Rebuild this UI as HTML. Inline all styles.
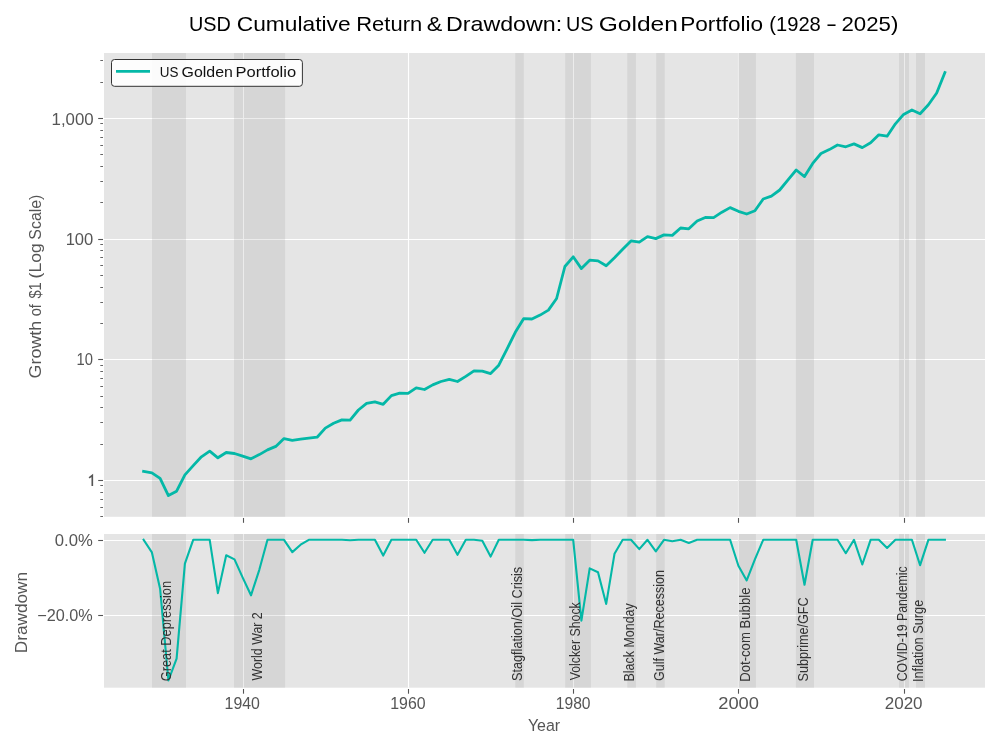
<!DOCTYPE html>
<html><head><meta charset="utf-8"><title>USD Cumulative Return &amp; Drawdown</title>
<style>html,body{margin:0;padding:0;background:#fff;}body{width:1000px;height:750px;overflow:hidden;font-family:"Liberation Sans",sans-serif;}</style></head>
<body>
<svg width="1000" height="750" viewBox="0 0 1000 750" style="display:block;will-change:transform;font-family:'Liberation Sans',sans-serif">
<rect width="1000" height="750" fill="#ffffff"/>
<rect x="104.0" y="53.0" width="881.0" height="463.8" fill="#e5e5e5"/>
<line x1="243.5" x2="243.5" y1="53.0" y2="516.8" stroke="#fff" stroke-width="1.1"/>
<line x1="408.5" x2="408.5" y1="53.0" y2="516.8" stroke="#fff" stroke-width="1.1"/>
<line x1="573.5" x2="573.5" y1="53.0" y2="516.8" stroke="#fff" stroke-width="1.1"/>
<line x1="738.5" x2="738.5" y1="53.0" y2="516.8" stroke="#fff" stroke-width="1.1"/>
<line x1="904.5" x2="904.5" y1="53.0" y2="516.8" stroke="#fff" stroke-width="1.1"/>
<line x1="104.0" x2="985.0" y1="118.5" y2="118.5" stroke="#fff" stroke-width="1.1"/>
<line x1="104.0" x2="985.0" y1="239.5" y2="239.5" stroke="#fff" stroke-width="1.1"/>
<line x1="104.0" x2="985.0" y1="359.5" y2="359.5" stroke="#fff" stroke-width="1.1"/>
<line x1="104.0" x2="985.0" y1="480.5" y2="480.5" stroke="#fff" stroke-width="1.1"/>
<rect x="152.0" y="53.0" width="34.0" height="463.8" fill="#808080" fill-opacity="0.15"/>
<rect x="234.0" y="53.0" width="51.1" height="463.8" fill="#808080" fill-opacity="0.15"/>
<rect x="515.3" y="53.0" width="8.5" height="463.8" fill="#808080" fill-opacity="0.15"/>
<rect x="565.2" y="53.0" width="25.7" height="463.8" fill="#808080" fill-opacity="0.15"/>
<rect x="627.3" y="53.0" width="8.6" height="463.8" fill="#808080" fill-opacity="0.15"/>
<rect x="656.2" y="53.0" width="8.5" height="463.8" fill="#808080" fill-opacity="0.15"/>
<rect x="738.0" y="53.0" width="17.9" height="463.8" fill="#808080" fill-opacity="0.15"/>
<rect x="795.9" y="53.0" width="18.1" height="463.8" fill="#808080" fill-opacity="0.15"/>
<rect x="899.0" y="53.0" width="10.0" height="463.8" fill="#808080" fill-opacity="0.15"/>
<rect x="916.0" y="53.0" width="9.0" height="463.8" fill="#808080" fill-opacity="0.15"/>
<rect x="104.0" y="534.0" width="881.0" height="153.7" fill="#e5e5e5"/>
<line x1="243.5" x2="243.5" y1="534.0" y2="687.7" stroke="#fff" stroke-width="1.1"/>
<line x1="408.5" x2="408.5" y1="534.0" y2="687.7" stroke="#fff" stroke-width="1.1"/>
<line x1="573.5" x2="573.5" y1="534.0" y2="687.7" stroke="#fff" stroke-width="1.1"/>
<line x1="738.5" x2="738.5" y1="534.0" y2="687.7" stroke="#fff" stroke-width="1.1"/>
<line x1="904.5" x2="904.5" y1="534.0" y2="687.7" stroke="#fff" stroke-width="1.1"/>
<line x1="104.0" x2="985.0" y1="540.5" y2="540.5" stroke="#fff" stroke-width="1.1"/>
<line x1="104.0" x2="985.0" y1="615.5" y2="615.5" stroke="#fff" stroke-width="1.1"/>
<rect x="152.0" y="534.0" width="34.0" height="153.7" fill="#808080" fill-opacity="0.15"/>
<rect x="234.0" y="534.0" width="51.1" height="153.7" fill="#808080" fill-opacity="0.15"/>
<rect x="515.3" y="534.0" width="8.5" height="153.7" fill="#808080" fill-opacity="0.15"/>
<rect x="565.2" y="534.0" width="25.7" height="153.7" fill="#808080" fill-opacity="0.15"/>
<rect x="627.3" y="534.0" width="8.6" height="153.7" fill="#808080" fill-opacity="0.15"/>
<rect x="656.2" y="534.0" width="8.5" height="153.7" fill="#808080" fill-opacity="0.15"/>
<rect x="738.0" y="534.0" width="17.9" height="153.7" fill="#808080" fill-opacity="0.15"/>
<rect x="795.9" y="534.0" width="18.1" height="153.7" fill="#808080" fill-opacity="0.15"/>
<rect x="899.0" y="534.0" width="10.0" height="153.7" fill="#808080" fill-opacity="0.15"/>
<rect x="916.0" y="534.0" width="9.0" height="153.7" fill="#808080" fill-opacity="0.15"/>
<polyline points="143.6,471.4 151.9,472.8 160.1,478.4 168.4,495.6 176.6,491.2 184.9,474.9 193.2,465.6 201.4,456.8 209.7,451.1 217.9,457.8 226.2,452.5 234.5,453.5 242.7,456.2 251.0,458.8 259.3,454.6 267.5,449.9 275.8,446.4 284.0,438.6 292.3,440.3 300.6,439.2 308.8,438.1 317.1,437.2 325.3,428.1 333.6,423.3 341.9,419.9 350.1,420.1 358.4,410.0 366.6,403.3 374.9,401.8 383.2,404.3 391.4,395.6 399.7,393.2 408.0,393.4 416.2,387.8 424.5,389.5 432.7,384.9 441.0,381.5 449.3,379.3 457.5,381.5 465.8,376.4 474.0,370.8 482.3,371.1 490.6,373.6 498.8,365.2 507.1,348.8 515.3,332.3 523.6,318.7 531.9,319.0 540.1,315.1 548.4,310.1 556.6,298.5 564.9,266.5 573.2,256.8 581.4,268.6 589.7,260.2 598.0,260.9 606.2,265.8 614.5,257.7 622.7,249.2 631.0,240.9 639.3,242.2 647.5,236.7 655.8,238.6 664.0,234.9 672.3,235.4 680.6,228.0 688.8,228.8 697.1,221.0 705.3,217.5 713.6,217.6 721.9,212.2 730.1,207.6 738.4,211.3 746.7,214.0 754.9,210.8 763.2,199.0 771.4,196.1 779.7,190.0 788.0,179.9 796.2,170.0 804.5,176.6 812.7,163.4 821.0,153.5 829.3,149.6 837.5,145.0 845.8,146.8 854.0,143.9 862.3,147.6 870.6,142.8 878.8,134.8 887.1,136.2 895.4,123.8 903.6,114.4 911.9,109.9 920.1,113.8 928.4,104.8 936.7,93.0 944.9,72.6" fill="none" stroke="#04b8a7" stroke-width="2.8" stroke-linejoin="round" stroke-linecap="square"/>
<polyline points="143.6,539.8 151.9,552.4 160.1,588.7 168.4,680.5 176.6,658.6 184.9,563.7 193.2,539.8 201.4,539.8 209.7,539.8 217.9,593.1 226.2,555.2 234.5,559.4 242.7,577.6 251.0,595.3 259.3,569.8 267.5,539.8 275.8,539.8 284.0,539.8 292.3,552.1 300.6,544.7 308.8,539.8 317.1,539.8 325.3,539.8 333.6,539.8 341.9,539.8 350.1,540.2 358.4,539.8 366.6,539.8 374.9,539.8 383.2,555.6 391.4,539.8 399.7,539.8 408.0,539.8 416.2,539.8 424.5,552.8 432.7,539.8 441.0,539.8 449.3,539.8 457.5,554.8 465.8,539.8 474.0,539.8 482.3,540.8 490.6,556.6 498.8,539.8 507.1,539.8 515.3,539.8 523.6,539.8 531.9,540.1 540.1,539.8 548.4,539.8 556.6,539.8 564.9,539.8 573.2,539.8 581.4,620.7 589.7,568.4 598.0,572.3 606.2,603.9 614.5,553.8 622.7,539.8 631.0,539.8 639.3,549.1 647.5,539.8 655.8,551.3 664.0,539.8 672.3,541.3 680.6,539.8 688.8,542.9 697.1,539.8 705.3,539.8 713.6,539.8 721.9,539.8 730.1,539.8 738.4,565.7 746.7,580.4 754.9,559.4 763.2,539.8 771.4,539.8 779.7,539.8 788.0,539.8 796.2,539.8 804.5,584.7 812.7,539.8 821.0,539.8 829.3,539.8 837.5,539.8 845.8,553.2 854.0,539.8 862.3,564.5 870.6,539.8 878.8,539.8 887.1,548.0 895.4,539.8 903.6,539.8 911.9,539.8 920.1,565.2 928.4,539.8 936.7,539.8 944.9,539.8" fill="none" stroke="#04b8a7" stroke-width="2.1" stroke-linejoin="round" stroke-linecap="square"/>
<line x1="243.5" x2="243.5" y1="518" y2="522.8" stroke="#555555" stroke-width="1.1"/>
<line x1="243.5" x2="243.5" y1="689" y2="693.7" stroke="#555555" stroke-width="1.1"/>
<line x1="408.5" x2="408.5" y1="518" y2="522.8" stroke="#555555" stroke-width="1.1"/>
<line x1="408.5" x2="408.5" y1="689" y2="693.7" stroke="#555555" stroke-width="1.1"/>
<line x1="573.5" x2="573.5" y1="518" y2="522.8" stroke="#555555" stroke-width="1.1"/>
<line x1="573.5" x2="573.5" y1="689" y2="693.7" stroke="#555555" stroke-width="1.1"/>
<line x1="738.5" x2="738.5" y1="518" y2="522.8" stroke="#555555" stroke-width="1.1"/>
<line x1="738.5" x2="738.5" y1="689" y2="693.7" stroke="#555555" stroke-width="1.1"/>
<line x1="904.5" x2="904.5" y1="518" y2="522.8" stroke="#555555" stroke-width="1.1"/>
<line x1="904.5" x2="904.5" y1="689" y2="693.7" stroke="#555555" stroke-width="1.1"/>
<line x1="98.2" x2="103" y1="118.5" y2="118.5" stroke="#555555" stroke-width="1.1"/>
<line x1="98.2" x2="103" y1="239.5" y2="239.5" stroke="#555555" stroke-width="1.1"/>
<line x1="98.2" x2="103" y1="359.5" y2="359.5" stroke="#555555" stroke-width="1.1"/>
<line x1="98.2" x2="103" y1="480.5" y2="480.5" stroke="#555555" stroke-width="1.1"/>
<line x1="98.2" x2="103" y1="540.5" y2="540.5" stroke="#555555" stroke-width="1.1"/>
<line x1="98.2" x2="103" y1="615.5" y2="615.5" stroke="#555555" stroke-width="1.1"/>
<line x1="100.3" x2="103" y1="516.5" y2="516.5" stroke="#555555" stroke-width="0.9"/>
<line x1="100.3" x2="103" y1="507.5" y2="507.5" stroke="#555555" stroke-width="0.9"/>
<line x1="100.3" x2="103" y1="499.5" y2="499.5" stroke="#555555" stroke-width="0.9"/>
<line x1="100.3" x2="103" y1="492.5" y2="492.5" stroke="#555555" stroke-width="0.9"/>
<line x1="100.3" x2="103" y1="485.5" y2="485.5" stroke="#555555" stroke-width="0.9"/>
<line x1="100.3" x2="103" y1="444.5" y2="444.5" stroke="#555555" stroke-width="0.9"/>
<line x1="100.3" x2="103" y1="422.5" y2="422.5" stroke="#555555" stroke-width="0.9"/>
<line x1="100.3" x2="103" y1="407.5" y2="407.5" stroke="#555555" stroke-width="0.9"/>
<line x1="100.3" x2="103" y1="396.5" y2="396.5" stroke="#555555" stroke-width="0.9"/>
<line x1="100.3" x2="103" y1="386.5" y2="386.5" stroke="#555555" stroke-width="0.9"/>
<line x1="100.3" x2="103" y1="378.5" y2="378.5" stroke="#555555" stroke-width="0.9"/>
<line x1="100.3" x2="103" y1="371.5" y2="371.5" stroke="#555555" stroke-width="0.9"/>
<line x1="100.3" x2="103" y1="365.5" y2="365.5" stroke="#555555" stroke-width="0.9"/>
<line x1="100.3" x2="103" y1="323.5" y2="323.5" stroke="#555555" stroke-width="0.9"/>
<line x1="100.3" x2="103" y1="302.5" y2="302.5" stroke="#555555" stroke-width="0.9"/>
<line x1="100.3" x2="103" y1="287.5" y2="287.5" stroke="#555555" stroke-width="0.9"/>
<line x1="100.3" x2="103" y1="275.5" y2="275.5" stroke="#555555" stroke-width="0.9"/>
<line x1="100.3" x2="103" y1="265.5" y2="265.5" stroke="#555555" stroke-width="0.9"/>
<line x1="100.3" x2="103" y1="257.5" y2="257.5" stroke="#555555" stroke-width="0.9"/>
<line x1="100.3" x2="103" y1="250.5" y2="250.5" stroke="#555555" stroke-width="0.9"/>
<line x1="100.3" x2="103" y1="244.5" y2="244.5" stroke="#555555" stroke-width="0.9"/>
<line x1="100.3" x2="103" y1="202.5" y2="202.5" stroke="#555555" stroke-width="0.9"/>
<line x1="100.3" x2="103" y1="181.5" y2="181.5" stroke="#555555" stroke-width="0.9"/>
<line x1="100.3" x2="103" y1="166.5" y2="166.5" stroke="#555555" stroke-width="0.9"/>
<line x1="100.3" x2="103" y1="154.5" y2="154.5" stroke="#555555" stroke-width="0.9"/>
<line x1="100.3" x2="103" y1="145.5" y2="145.5" stroke="#555555" stroke-width="0.9"/>
<line x1="100.3" x2="103" y1="137.5" y2="137.5" stroke="#555555" stroke-width="0.9"/>
<line x1="100.3" x2="103" y1="130.5" y2="130.5" stroke="#555555" stroke-width="0.9"/>
<line x1="100.3" x2="103" y1="123.5" y2="123.5" stroke="#555555" stroke-width="0.9"/>
<line x1="100.3" x2="103" y1="82.5" y2="82.5" stroke="#555555" stroke-width="0.9"/>
<line x1="100.3" x2="103" y1="60.5" y2="60.5" stroke="#555555" stroke-width="0.9"/>
<rect x="111.5" y="59.5" width="190.9" height="26.8" rx="3" ry="3" fill="#ffffff" fill-opacity="0.9" stroke="#333" stroke-width="1"/>
<line x1="116" x2="150" y1="71.4" y2="71.4" stroke="#04b8a7" stroke-width="2.8"/>
<text x="189.00" y="30.6" font-size="20.4" fill="#000000" textLength="41.90" lengthAdjust="spacingAndGlyphs">USD</text>
<text x="236.75" y="30.6" font-size="20.4" fill="#000000" textLength="113.80" lengthAdjust="spacingAndGlyphs">Cumulative</text>
<text x="356.25" y="30.6" font-size="20.4" fill="#000000" textLength="65.90" lengthAdjust="spacingAndGlyphs">Return</text>
<text x="426.75" y="30.6" font-size="20.4" fill="#000000" textLength="15.57" lengthAdjust="spacingAndGlyphs">&amp;</text>
<text x="446.00" y="30.6" font-size="20.4" fill="#000000" textLength="116.14" lengthAdjust="spacingAndGlyphs">Drawdown:</text>
<text x="566.00" y="30.6" font-size="20.4" fill="#000000" textLength="27.47" lengthAdjust="spacingAndGlyphs">US</text>
<text x="598.75" y="30.6" font-size="20.4" fill="#000000" textLength="79.10" lengthAdjust="spacingAndGlyphs">Golden</text>
<text x="680.25" y="30.6" font-size="20.4" fill="#000000" textLength="82.85" lengthAdjust="spacingAndGlyphs">Portfolio</text>
<text x="769.25" y="30.6" font-size="20.4" fill="#000000" textLength="51.58" lengthAdjust="spacingAndGlyphs">(1928</text>
<text x="826.00" y="30.6" font-size="20.4" fill="#000000" textLength="11.01" lengthAdjust="spacingAndGlyphs">-</text>
<text x="841.50" y="30.6" font-size="20.4" fill="#000000" textLength="56.85" lengthAdjust="spacingAndGlyphs">2025)</text>
<text x="51.55" y="124.5" font-size="16.3" fill="#555555" textLength="42.09" lengthAdjust="spacingAndGlyphs">1,000</text>
<text x="65.65" y="245.2" font-size="16.3" fill="#555555" textLength="27.65" lengthAdjust="spacingAndGlyphs">100</text>
<text x="76.60" y="365.3" font-size="16.3" fill="#555555" textLength="16.42" lengthAdjust="spacingAndGlyphs">10</text>
<polyline points="89.1,477.9 92.3,475.4 92.3,486.1" fill="none" stroke="#555555" stroke-width="1.65" stroke-linejoin="miter"/>
<text x="54.85" y="546.0" font-size="16.3" fill="#555555" textLength="38.04" lengthAdjust="spacingAndGlyphs">0.0%</text>
<text x="37.25" y="620.9" font-size="16.3" fill="#555555" textLength="55.53" lengthAdjust="spacingAndGlyphs">−20.0%</text>
<text x="224.55" y="708.7" font-size="16.3" fill="#555555" textLength="35.35" lengthAdjust="spacingAndGlyphs">1940</text>
<text x="390.25" y="708.7" font-size="16.3" fill="#555555" textLength="35.35" lengthAdjust="spacingAndGlyphs">1960</text>
<text x="555.75" y="708.7" font-size="16.3" fill="#555555" textLength="34.83" lengthAdjust="spacingAndGlyphs">1980</text>
<text x="718.20" y="708.7" font-size="16.3" fill="#555555" textLength="40.81" lengthAdjust="spacingAndGlyphs">2000</text>
<text x="884.75" y="708.7" font-size="16.3" fill="#555555" textLength="37.81" lengthAdjust="spacingAndGlyphs">2020</text>
<text x="527.90" y="730.9" font-size="16.3" fill="#555555" textLength="32.27" lengthAdjust="spacingAndGlyphs">Year</text>
<text x="159.70" y="76.5" font-size="14.0" fill="#111111" textLength="18.65" lengthAdjust="spacingAndGlyphs">US</text>
<text x="181.55" y="76.5" font-size="14.0" fill="#111111" textLength="51.31" lengthAdjust="spacingAndGlyphs">Golden</text>
<text x="235.55" y="76.5" font-size="14.0" fill="#111111" textLength="60.57" lengthAdjust="spacingAndGlyphs">Portfolio</text>
<text transform="translate(40.9,378.40) rotate(-90)" font-size="16.3" fill="#555555" textLength="57.58" lengthAdjust="spacingAndGlyphs">Growth</text>
<text transform="translate(40.9,316.30) rotate(-90)" font-size="16.3" fill="#555555" textLength="12.26" lengthAdjust="spacingAndGlyphs">of</text>
<text transform="translate(40.9,298.55) rotate(-90)" font-size="16.3" fill="#555555" textLength="16.32" lengthAdjust="spacingAndGlyphs">$1</text>
<text transform="translate(40.9,278.40) rotate(-90)" font-size="16.3" fill="#555555" textLength="35.15" lengthAdjust="spacingAndGlyphs">(Log</text>
<text transform="translate(40.9,239.65) rotate(-90)" font-size="16.3" fill="#555555" textLength="45.06" lengthAdjust="spacingAndGlyphs">Scale)</text>
<text transform="translate(27.1,653.20) rotate(-90)" font-size="16.3" fill="#555555" textLength="81.32" lengthAdjust="spacingAndGlyphs">Drawdown</text>
<text transform="translate(171.4,681.25) rotate(-90)" font-size="14.2" fill="#333333" textLength="100.27" lengthAdjust="spacingAndGlyphs">Great Depression</text>
<text transform="translate(262.4,680.50) rotate(-90)" font-size="14.2" fill="#333333" textLength="68.26" lengthAdjust="spacingAndGlyphs">World War 2</text>
<text transform="translate(522.3,681.05) rotate(-90)" font-size="14.2" fill="#333333" textLength="114.26" lengthAdjust="spacingAndGlyphs">Stagflation/Oil Crisis</text>
<text transform="translate(580.2,680.30) rotate(-90)" font-size="14.2" fill="#333333" textLength="78.00" lengthAdjust="spacingAndGlyphs">Volcker Shock</text>
<text transform="translate(634.1,681.50) rotate(-90)" font-size="14.2" fill="#333333" textLength="78.26" lengthAdjust="spacingAndGlyphs">Black Monday</text>
<text transform="translate(663.6,681.05) rotate(-90)" font-size="14.2" fill="#333333" textLength="111.02" lengthAdjust="spacingAndGlyphs">Gulf War/Recession</text>
<text transform="translate(750.3,681.80) rotate(-90)" font-size="14.2" fill="#333333" textLength="94.28" lengthAdjust="spacingAndGlyphs">Dot-com Bubble</text>
<text transform="translate(807.6,681.55) rotate(-90)" font-size="14.2" fill="#333333" textLength="84.27" lengthAdjust="spacingAndGlyphs">Subprime/GFC</text>
<text transform="translate(907.3,681.30) rotate(-90)" font-size="14.2" fill="#333333" textLength="115.01" lengthAdjust="spacingAndGlyphs">COVID-19 Pandemic</text>
<text transform="translate(923.2,682.05) rotate(-90)" font-size="14.2" fill="#333333" textLength="82.29" lengthAdjust="spacingAndGlyphs">Inflation Surge</text>
</svg>
</body></html>
